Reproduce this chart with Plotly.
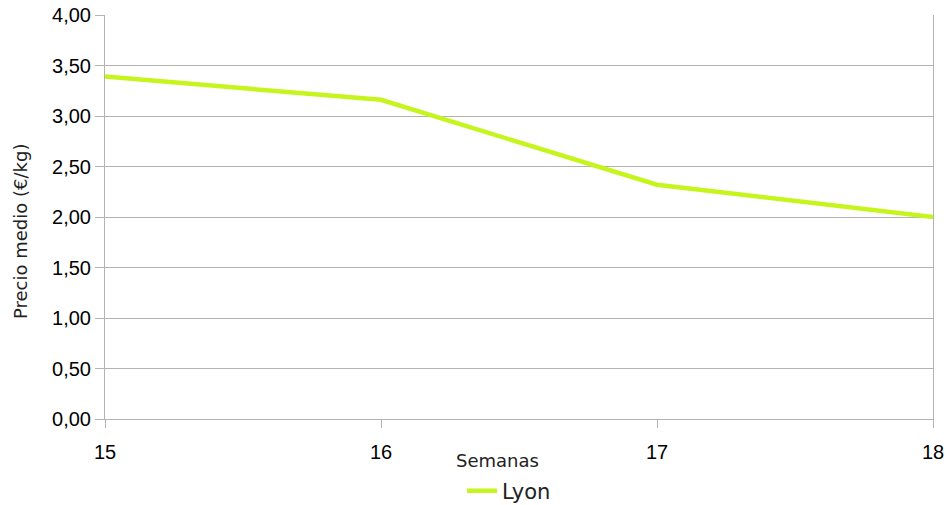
import plotly.graph_objects as go

semanas = [15, 16, 17, 18]
precio_lyon = [3.39, 3.16, 2.32, 2.00]
y_ticks = [0, 0.5, 1, 1.5, 2, 2.5, 3, 3.5, 4]
y_labels = ["0,00", "0,50", "1,00", "1,50", "2,00", "2,50", "3,00", "3,50", "4,00"]

fig = go.Figure()

fig.add_trace(go.Scatter(x=semanas,
                         y=precio_lyon,
                         mode='lines',
                         line=dict(color='#c5f51c', width=4.5),
                         name='Lyon'))

grid = '#b3b3b3'
title_font = dict(family='DejaVu Sans', size=18, color='#222222')

fig.update_layout(
    width=951,
    height=505,
    autosize=False,
    # autoexpand=False para que la leyenda no empuje el margen inferior
    margin=dict(l=105, r=18, t=15, b=86, autoexpand=False),
    plot_bgcolor='white',
    paper_bgcolor='white',
    font=dict(family='Liberation Sans', size=20, color='black'),
    showlegend=True,
    legend=dict(orientation='h', x=(462 - 105) / 828, xanchor='left',
                y=(419 - 491) / 404, yanchor='middle',
                font=dict(family='DejaVu Sans', size=21, color='#222222'),
                bgcolor='rgba(0,0,0,0)'),
    xaxis=dict(range=[15, 18], tickvals=semanas, ticktext=[str(s) for s in semanas],
               showgrid=False, showline=True, linecolor=grid, linewidth=1,
               ticks='outside', ticklen=8, tickcolor=grid, zeroline=False,
               ticklabelstandoff=7, automargin=False),
    yaxis=dict(range=[0, 4], tickvals=y_ticks, ticktext=y_labels,
               showgrid=True, gridcolor=grid, gridwidth=1,
               showline=True, linecolor=grid, linewidth=1, mirror=True,
               ticks='outside', ticklen=9, tickcolor=grid, zeroline=False,
               automargin=False),
    annotations=[
        dict(text='Semanas', xref='paper', yref='paper',
             x=(497 - 105) / 828, y=(419 - 460) / 404,
             xanchor='center', yanchor='middle', showarrow=False, font=title_font),
        dict(text='Precio medio (€/kg)', xref='paper', yref='paper',
             x=(20 - 105) / 828, y=(419 - 232) / 404, textangle=-90,
             xanchor='center', yanchor='middle', showarrow=False, font=title_font),
    ]
)

# sin margen del body para que el grafico quede en 0,0
fig.write_html("out.html",
               config={'responsive': False, 'displayModeBar': False},
               post_script="document.body.style.margin='0';document.body.style.overflow='hidden';")
